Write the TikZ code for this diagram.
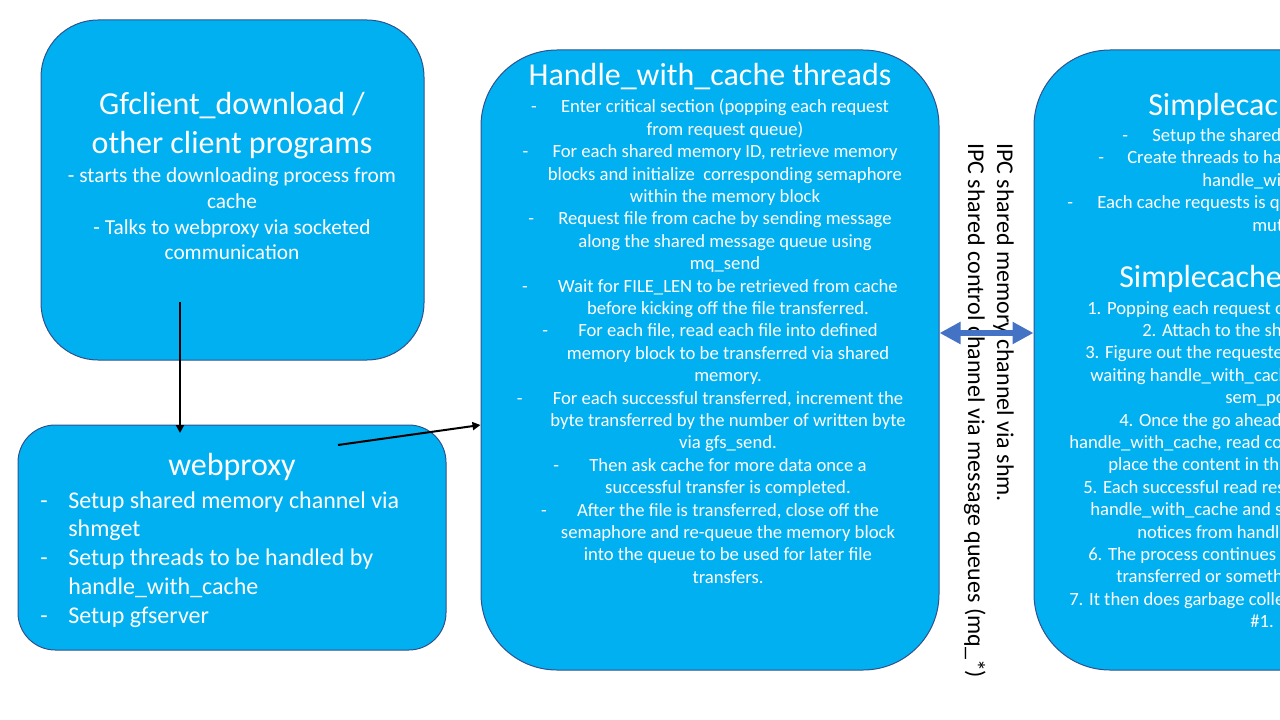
\documentclass[tikz,border=0pt]{standalone}
\usepackage{fontspec}
\setmainfont{Carlito}
\usetikzlibrary{arrows.meta,fit}
\newlength\px
\setlength\px{0.75pt}
\definecolor{boxfill}{HTML}{00B0F0}
\definecolor{boxline}{HTML}{2F528F}
\definecolor{ipcblue}{HTML}{4472C4}
\begin{document}
\begin{tikzpicture}[x=0.75pt,y=-0.75pt,
  box/.style={draw=boxline, line width=0.75pt, fill=boxfill, inner sep=0pt},
  txt/.style={text=white, inner sep=0pt},
  ttl/.style={txt, font=\fontsize{24}{28.8}\selectfont},
  conn/.style={line width=1.5pt, -{Triangle[length=6pt,width=6pt]}},
  ipcarrow/.style={line width=5pt, draw=ipcblue, {Triangle[length=15.75pt,width=15.75pt]}-{Triangle[length=15.75pt,width=15.75pt]}},
  vlabel/.style={rotate=-90, anchor=base west, inner sep=0pt, font=\fontsize{18}{21.6}\selectfont}]
\useasboundingbox (0,0) rectangle (1280,720);
\clip (0,0) rectangle (1280,720);
% boxes
\node[box, rounded corners=42.75pt, fit={(41,20)(424,360)}] (gf) {};
\node[box, rounded corners=28pt, fit={(18,425)(446,650)}] (wp) {};
\node[box, rounded corners=57pt, fit={(481,50)(939,670)}] (hw) {};
\node[box, rounded corners=57pt, fit={(1034,50)(1492,670)}] (sc) {};
% Gfclient
\node[ttl, anchor=base] (gftitle) at (232,115) {\begin{tabular}[t]{@{}c@{}}Gfclient\_download /\\other client programs\end{tabular}};
\node[txt, anchor=base, font=\fontsize{16}{19.2}\selectfont] (gfbody) at (232,183) {\begin{tabular}[t]{@{}c@{}}- starts the downloading process from\\cache\\- Talks to webproxy via socketed\\communication\end{tabular}};
% webproxy
\node[ttl, anchor=base] (wptitle) at (232,475) {webproxy};
\node[txt, anchor=base west, font=\fontsize{18}{21.6}\selectfont] (wpbody) at (40,508) {\begin{tabular}[t]{@{}l@{}}
\makebox[28\px][l]{-}Setup shared memory channel via\\
\hspace*{28\px}shmget\\
\makebox[28\px][l]{-}Setup threads to be handled by\\
\hspace*{28\px}handle\_with\_cache\\
\makebox[28\px][l]{-}Setup gfserver
\end{tabular}};
% Handle_with_cache
\node[ttl, anchor=base] (hwtitle) at (710,86) {Handle\_with\_cache threads};
\node[txt, anchor=base, font=\fontsize{14}{16.8}\selectfont] (hwbody) at (710,113) {\begin{tabular}[t]{@{}c@{}}
\makebox[30\px][l]{-}Enter critical section (popping each request\\
\hspace*{30\px}from request queue)\\
\makebox[30\px][l]{-}For each shared memory ID, retrieve memory\\
\hspace*{30\px}blocks and initialize\ \ corresponding semaphore\\
\hspace*{30\px}within the memory block\\
\makebox[30\px][l]{-}Request file from cache by sending message\\
\hspace*{30\px}along the shared message queue using\\
\hspace*{30\px}mq\_send\\
\makebox[36\px][l]{-}Wait for FILE\_LEN to be retrieved from cache\\
\hspace*{36\px}before kicking off the file transferred.\\
\makebox[36\px][l]{-}For each file, read each file into defined\\
\hspace*{36\px}memory block to be transferred via shared\\
\hspace*{36\px}memory.\\
\makebox[36\px][l]{-}For each successful transferred, increment the\\
\hspace*{36\px}byte transferred by the number of written byte\\
\hspace*{36\px}via gfs\_send.\\
\makebox[36\px][l]{-}Then ask cache for more data once a\\
\hspace*{36\px}successful transfer is completed.\\
\makebox[36\px][l]{-}After the file is transferred, close off the\\
\hspace*{36\px}semaphore and re-queue the memory block\\
\hspace*{36\px}into the queue to be used for later file\\
\hspace*{36\px}transfers.
\end{tabular}};
% Simplecache
\node[ttl, anchor=base west] (sctitle) at (1148,116) {Simplecache};
\node[txt, anchor=base west, font=\fontsize{14}{16.8}\selectfont] (scsetup) at (1067,141.5) {\begin{tabular}[t]{@{}l@{}}
\hspace*{55\px}\makebox[30\px][l]{-}Setup the shared memory\\
\hspace*{31\px}\makebox[29\px][l]{-}Create threads to handle\\
\hspace*{135\px}handle\_with\_cache\\
\makebox[30\px][l]{-}Each cache requests is queued\\
\hspace*{185\px}mutex
\end{tabular}};
\node[ttl, anchor=base west] (scstepstitle) at (1119,287) {Simplecache};
\node[txt, anchor=base west, font=\fontsize{14}{16.8}\selectfont] (scsteps) at (1069,314) {\begin{tabular}[t]{@{}l@{}}
\hspace*{18\px}1. Popping each request off\\
\hspace*{73\px}2. Attach to the shared\\
\hspace*{16\px}3. Figure out the requested\\
\hspace*{21\px}waiting handle\_with\_cache\\
\hspace*{156\px}sem\_post\\
\hspace*{50\px}4. Once the go ahead\\
handle\_with\_cache, read content\\
\hspace*{39\px}place the content in the\\
\hspace*{14\px}5. Each successful read results\\
\hspace*{21\px}handle\_with\_cache and sends\\
\hspace*{68\px}notices from handle\\
\hspace*{19\px}6. The process continues\\
\hspace*{47\px}transferred or something\\
7. It then does garbage collection\\
\hspace*{181\px}\#1.
\end{tabular}};
% IPC labels
\node[vlabel] (ipc1) at (997,143) {IPC shared memory channel via shm.};
\node[vlabel] (ipc2) at (968,143) {IPC shared control channel via message queues (mq\_*)};
% connectors
\coordinate (a1s) at (180,302);
\coordinate (a1e) at (180,433);
\coordinate (a2s) at (338,445);
\draw[conn] (a1s) -- (a1e);
\draw[conn] (a2s) -- ([yshift=-48.75pt]hw.west);
\draw[ipcarrow] ([yshift=20.25pt]hw.east) -- ([yshift=20.25pt]sc.west);
\end{tikzpicture}
\end{document}
